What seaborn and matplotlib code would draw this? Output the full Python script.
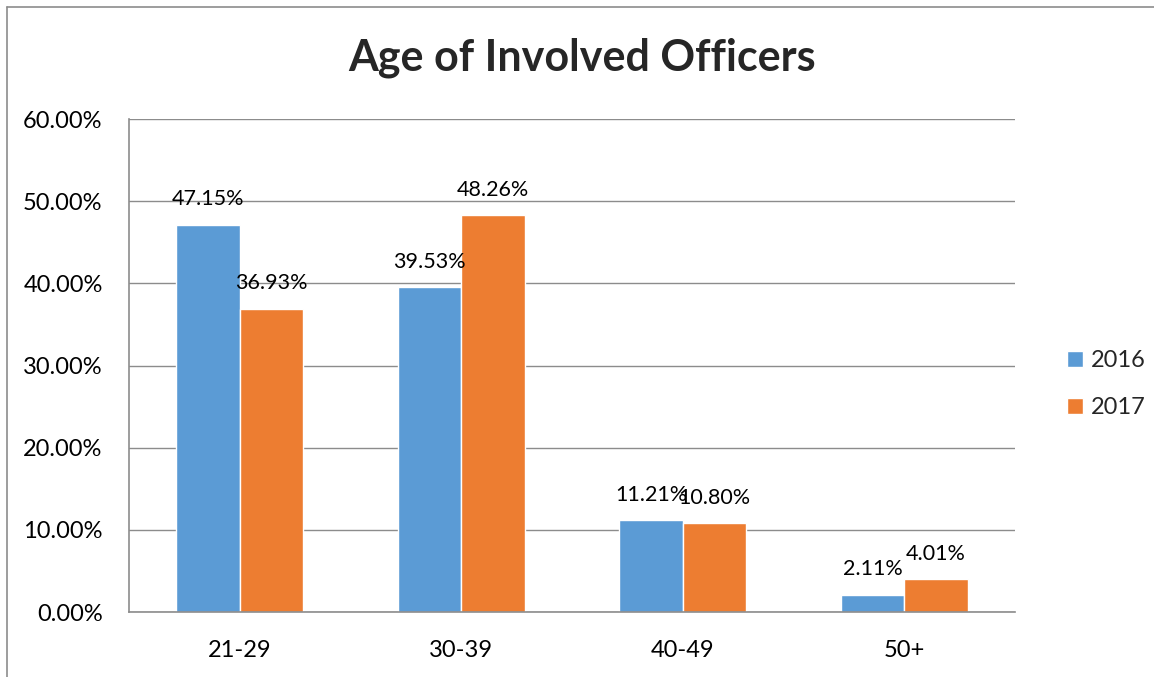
import matplotlib
matplotlib.use('Agg')
import matplotlib.pyplot as plt
import seaborn as sns
import pandas as pd
from matplotlib.lines import Line2D
from matplotlib.ticker import FuncFormatter

# data
age_groups = ['21-29', '30-39', '40-49', '50+']
years = ['2016', '2017']
pct_2016 = [47.15, 39.53, 11.21, 2.11]
pct_2017 = [36.93, 48.26, 10.80, 4.01]

df = pd.DataFrame({
    'age': age_groups * 2,
    'year': [years[0]] * 4 + [years[1]] * 4,
    'pct': pct_2016 + pct_2017,
})

sns.set_style('white')
plt.rcParams['font.family'] = ['Lato', 'DejaVu Sans']

fig = plt.figure(figsize=(11.54, 6.77), dpi=100)
ax = fig.add_axes([0.1118, 0.096, 0.7677, 0.7282])

sns.barplot(data=df, x='age', y='pct', hue='year', order=age_groups,
            hue_order=years, palette=['#5B9BD5', '#ED7D31'],
            width=0.574, gap=0, saturation=1, ax=ax, legend=True)

for cont in ax.containers:
    ax.bar_label(cont, labels=['%.2f%%' % b.get_height() for b in cont],
                 padding=11, fontsize=15.5, color='black')

ax.set_ylim(0, 60)
ax.set_yticks(range(0, 61, 10))
ax.yaxis.set_major_formatter(FuncFormatter(lambda v, p: '%.2f%%' % v))
ax.set_xlim(-0.5, 3.5)
ax.grid(axis='y', color='#8c8c8c', linewidth=1)
ax.set_axisbelow(True)
ax.set_xlabel('')
ax.set_ylabel('')
ax.tick_params(axis='both', length=0, labelsize=17, colors='black')
ax.tick_params(axis='y', pad=19)
ax.tick_params(axis='x', pad=20)
for s in ['top', 'right']:
    ax.spines[s].set_visible(False)
for s in ['left', 'bottom']:
    ax.spines[s].set_color('#8c8c8c')
    ax.spines[s].set_linewidth(1.2)

ax.legend(loc='center left', bbox_to_anchor=(1.035, 0.4625), frameon=False,
          fontsize=17, handlelength=0.65, handleheight=0.65,
          handletextpad=0.35, labelspacing=1.1)

fig.suptitle('Age of Involved Officers', x=0.504, y=0.945, fontsize=31,
             fontweight='bold')

# outer chart border (only top and left visible in the crop)
fig.add_artist(Line2D([7 / 1154, 7 / 1154], [0, 1 - 7 / 677],
                      color='#8c8c8c', linewidth=1.2, transform=fig.transFigure))
fig.add_artist(Line2D([7 / 1154, 1], [1 - 7 / 677, 1 - 7 / 677],
                      color='#8c8c8c', linewidth=1.2, transform=fig.transFigure))

fig.savefig('out.png', dpi=100)
